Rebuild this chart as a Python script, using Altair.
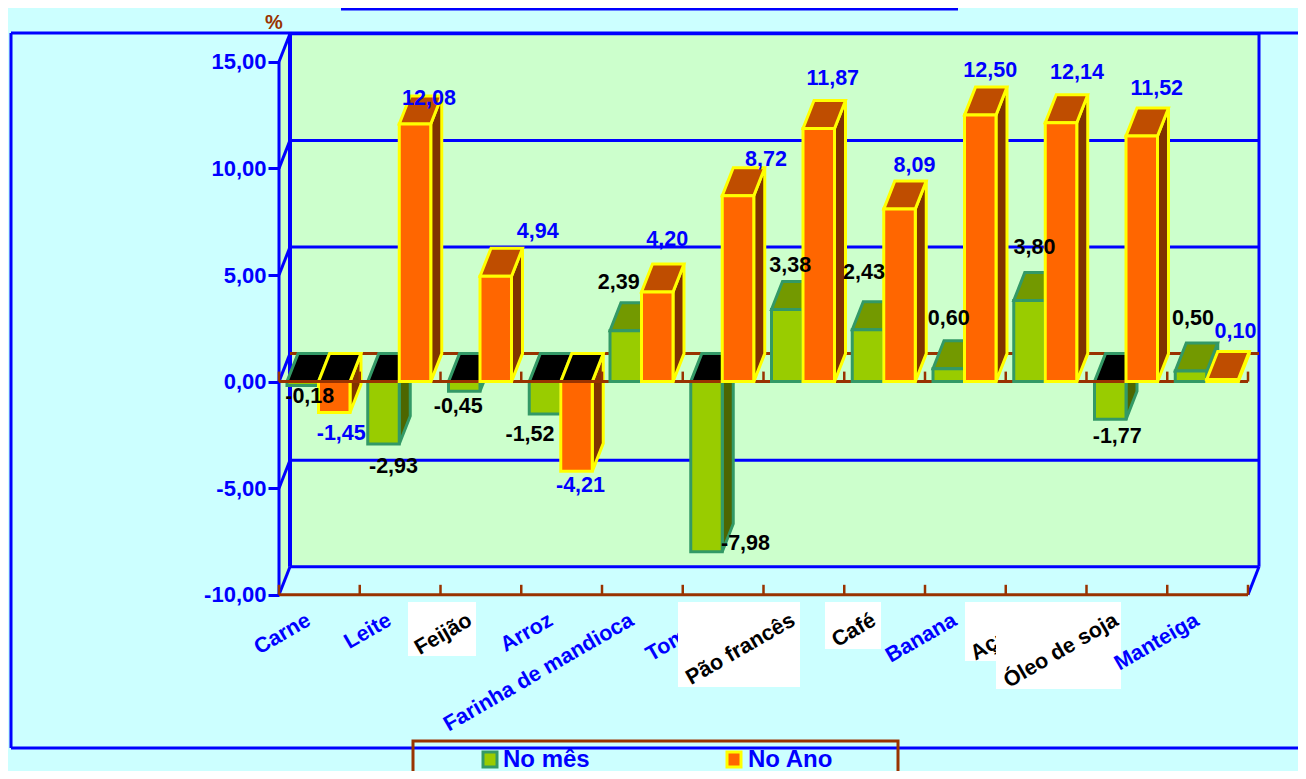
import altair as alt
import pandas as pd

# ---- chart data ----
categories = ["Carne", "Leite", "Feijão", "Arroz", "Farinha de mandioca", "Tomate",
              "Pão francês", "Café", "Banana", "Açúcar", "Óleo de soja", "Manteiga"]
no_mes = [-0.18, -2.93, -0.45, -1.52, 2.39, -7.98, 3.38, 2.43, 0.60, 3.80, -1.77, 0.50]
no_ano = [-1.45, 12.08, 4.94, -4.21, 4.20, 8.72, 11.87, 8.09, 12.50, 12.14, 11.52, 0.10]
y_ticks = [-10, -5, 0, 5, 10, 15]

# label nudges in pixels, from bar centre / bar end
mes_dx = [7, 10, -6, -15, -7, 39, 3, -4, 0, 5, 7, 2]
mes_dy = [12, 23, 16, 21, -20, -8, -16, -29, -22, -25, 18, -24]
ano_dx = [7, 14, 42, 4, 10, 28, 14, 15, 10, 16, 15, 13]
ano_dy = [21, 3, -16, 15, -24, -8, -22, -15, -16, -22, -19, -19]
boxes = {"Feijão": (408, 476, 602, 656), "Pão francês": (678, 800, 602, 687),
         "Café": (825, 881, 602, 649), "Açúcar": (965, 1060, 602, 661),
         "Óleo de soja": (996, 1121, 602, 689)}

# ---- geometry ----
W, H = 1290, 763
PXU, PXV = 80.75, 21.32
X0, Y0 = 279.0, 381.6
DX, DY = 11 / PXU, 28 / PXV
ux = lambda p: (p - X0) / PXU
vy = lambda p: (Y0 - p) / PXV

BLUE, BROWN = "#0000FF", "#993300"
BG, WALL = "#CCFFFF", "#CCFFCC"
FONT = "Liberation Sans"

XS = alt.Scale(domain=[ux(8), ux(8 + W)], range=[0, W], nice=False, zero=False)
YS = alt.Scale(domain=[vy(8 + H), vy(8)], range=[H, 0], nice=False, zero=False)
Y_AXIS = alt.Axis(
    values=y_ticks, offset=-271, domain=False, grid=False, title=None, tickColor=BLUE, tickWidth=3,
    tickSize=11, labelColor=BLUE, labelFont=FONT, labelFontWeight="bold", labelFontSize=22,
    labelPadding=2,
    labelExpr="replace(replace(format(datum.value,'.2f'),'.',','),'\u2212','-')")
X = alt.X("x:Q", scale=XS, axis=None, title=None)
Y = alt.Y("y:Q", scale=YS, axis=Y_AXIS, title=None)
X2 = alt.X2("x2:Q")
Y2 = alt.Y2("y2:Q")
layers = []


def rules(rows, color, width):
    df = pd.DataFrame(rows, columns=["x", "y", "x2", "y2"])
    return alt.Chart(df).mark_rule(color=color, strokeWidth=width).encode(x=X, y=Y, x2=X2, y2=Y2)


# back wall and side wall
wall = pd.DataFrame({"x": [DX], "x2": [12 + DX], "y": [15 + DY], "y2": [-10 + DY]})
layers.append(alt.Chart(wall).mark_rect(fill=WALL).encode(x=X, x2=X2, y=Y, y2=Y2))
side_wall = pd.DataFrame({"x": [0, DX], "y": [15, 15 + DY], "y2": [-10, -10 + DY]})
layers.append(alt.Chart(side_wall).mark_area(fill=WALL).encode(x=X, y=Y, y2=Y2))

# outer frame and title underline
layers.append(rules([[ux(11), vy(33), ux(1400), vy(33)],
                     [ux(11), vy(33), ux(11), vy(748)],
                     [ux(11), vy(748), ux(1400), vy(748)]], BLUE, 3))
layers.append(rules([[ux(341), vy(9), ux(958), vy(9)]], BLUE, 3))

# wall grid and edges
grid = [[DX, t + DY, 12 + DX, t + DY] for t in y_ticks if t != 0]
layers.append(rules(grid, BLUE, 3))
layers.append(rules([[DX, -10 + DY, DX, 15 + DY]], BLUE, 4))
layers.append(rules([[12 + DX, -10 + DY, 12 + DX, 15 + DY]], BLUE, 3))
layers.append(rules([[0, -10, 0, 15]], BLUE, 3))
diag = [[0, t, DX, t + DY] for t in y_ticks] + [[12, -10, 12 + DX, -10 + DY]]
layers.append(rules(diag, BLUE, 3))
layers.append(rules([[DX, DY, 12 + DX, DY]], BROWN, 3))


def bar_layers(vals, offset, fill, stroke, side, top, sign):
    idx = [i for i, v in enumerate(vals) if (v < 0) == (sign < 0)]
    w = 31.5 / PXU
    start = 8 / PXU + offset * w
    sd, tp, fr = [], [], []
    for i in idx:
        v = vals[i]
        a, b = i + start, i + start + w
        hi, lo = max(v, 0), min(v, 0)
        sd += [{"id": i, "x": b, "y": hi, "y2": lo}, {"id": i, "x": b + DX, "y": hi + DY, "y2": lo + DY}]
        tp += [{"id": i, "y": hi, "x": a, "x2": b}, {"id": i, "y": hi + DY, "x": a + DX, "x2": b + DX}]
        fr.append({"x": a, "x2": b, "y": hi, "y2": lo})
    topfill = "#000000" if sign < 0 else top
    sw = 3
    return [
        alt.Chart(pd.DataFrame(sd)).mark_area(fill=side, stroke=stroke, strokeWidth=sw).encode(
            x=X, y=Y, y2=Y2, detail="id:N"),
        alt.Chart(pd.DataFrame(tp)).mark_area(fill=topfill, stroke=stroke, strokeWidth=sw, orient="horizontal").encode(
            x=X, x2=X2, y=Y, detail="id:N"),
        alt.Chart(pd.DataFrame(fr)).mark_rect(fill=fill, stroke=stroke, strokeWidth=sw).encode(
            x=X, x2=X2, y=Y, y2=Y2),
    ]


GREEN = dict(fill="#99CC00", stroke="#339966", side="#4D6600", top="#739900")
ORANGE = dict(fill="#FF6600", stroke="#FFFF00", side="#803300", top="#BF4D00")

layers += bar_layers(no_mes, 0, sign=-1, **GREEN)
layers += bar_layers(no_ano, 1, sign=-1, **ORANGE)

# front floor lines with ticks
tick_len = 10 / PXV
for base in (0, -10):
    layers.append(rules([[0, base, 12, base]], BROWN, 3))
    layers.append(rules([[i, base, i, base + tick_len] for i in range(13)], BROWN, 2.5))

layers += bar_layers(no_mes, 0, sign=1, **GREEN)
layers += bar_layers(no_ano, 1, sign=1, **ORANGE)


def value_labels(vals, offset, dxs, dys, color):
    rows = []
    for i, v in enumerate(vals):
        centre = i + (8 + 31.5 * offset + 15.75) / PXU
        anchor = v + DY if v >= 0 else v
        rows.append({"x": centre + dxs[i] / PXU, "y": anchor - dys[i] / PXV,
                     "t": f"{v:.2f}".replace(".", ",")})
    return alt.Chart(pd.DataFrame(rows)).mark_text(
        font=FONT, fontWeight="bold", fontSize=21.5, color=color, baseline="middle", align="center"
    ).encode(x=X, y=Y, text="t:N")


layers.append(value_labels(no_mes, 0, mes_dx, mes_dy, "#000000"))
layers.append(value_labels(no_ano, 1, ano_dx, ano_dy, BLUE))

# category labels, painted in order so later boxes hide earlier labels
for i, name in enumerate(categories):
    if name in boxes:
        l, r, t, b = boxes[name]
        df = pd.DataFrame([{"x": ux(l), "x2": ux(r), "y": vy(t), "y2": vy(b)}])
        layers.append(alt.Chart(df).mark_rect(fill="#FFFFFF").encode(x=X, x2=X2, y=Y, y2=Y2))
    df = pd.DataFrame([{"x": i + 30 / PXU, "y": vy(619), "t": name}])
    layers.append(alt.Chart(df).mark_text(
        font=FONT, fontWeight="bold", fontSize=21.5, angle=330, align="right", baseline="middle",
        color="#000000" if name in boxes else BLUE).encode(x=X, y=Y, text="t:N"))

# percent sign
layers.append(alt.Chart(pd.DataFrame([{"x": ux(274), "y": vy(23), "t": "%"}])).mark_text(
    font=FONT, fontWeight="bold", fontSize=20, color=BROWN).encode(x=X, y=Y, text="t:N"))

# legend
box = pd.DataFrame([{"x": ux(413), "x2": ux(898), "y": vy(741), "y2": vy(800)}])
layers.append(alt.Chart(box).mark_rect(fillOpacity=0, stroke=BROWN, strokeWidth=3).encode(x=X, x2=X2, y=Y, y2=Y2))
for l, fill, stroke, tx, label in [(483, "#99CC00", "#339966", 503, "No mês"),
                                   (727, "#FF6600", "#FFFF00", 748, "No Ano")]:
    sw = pd.DataFrame([{"x": ux(l), "x2": ux(l + 14), "y": vy(752), "y2": vy(767)}])
    layers.append(alt.Chart(sw).mark_rect(fill=fill, stroke=stroke, strokeWidth=3).encode(x=X, x2=X2, y=Y, y2=Y2))
    tdf = pd.DataFrame([{"x": ux(tx), "y": vy(760), "t": label}])
    layers.append(alt.Chart(tdf).mark_text(
        font=FONT, fontWeight="bold", fontSize=24, align="left", baseline="middle", color=BLUE
    ).encode(x=X, y=Y, text="t:N"))

chart = alt.layer(*layers).properties(
    width=W, height=H, padding=0, background=BG,
    autosize=alt.AutoSizeParams(type="none"),
).configure_view(stroke=None)

chart.save("out.html", embed_options={"renderer": "svg", "actions": False})
